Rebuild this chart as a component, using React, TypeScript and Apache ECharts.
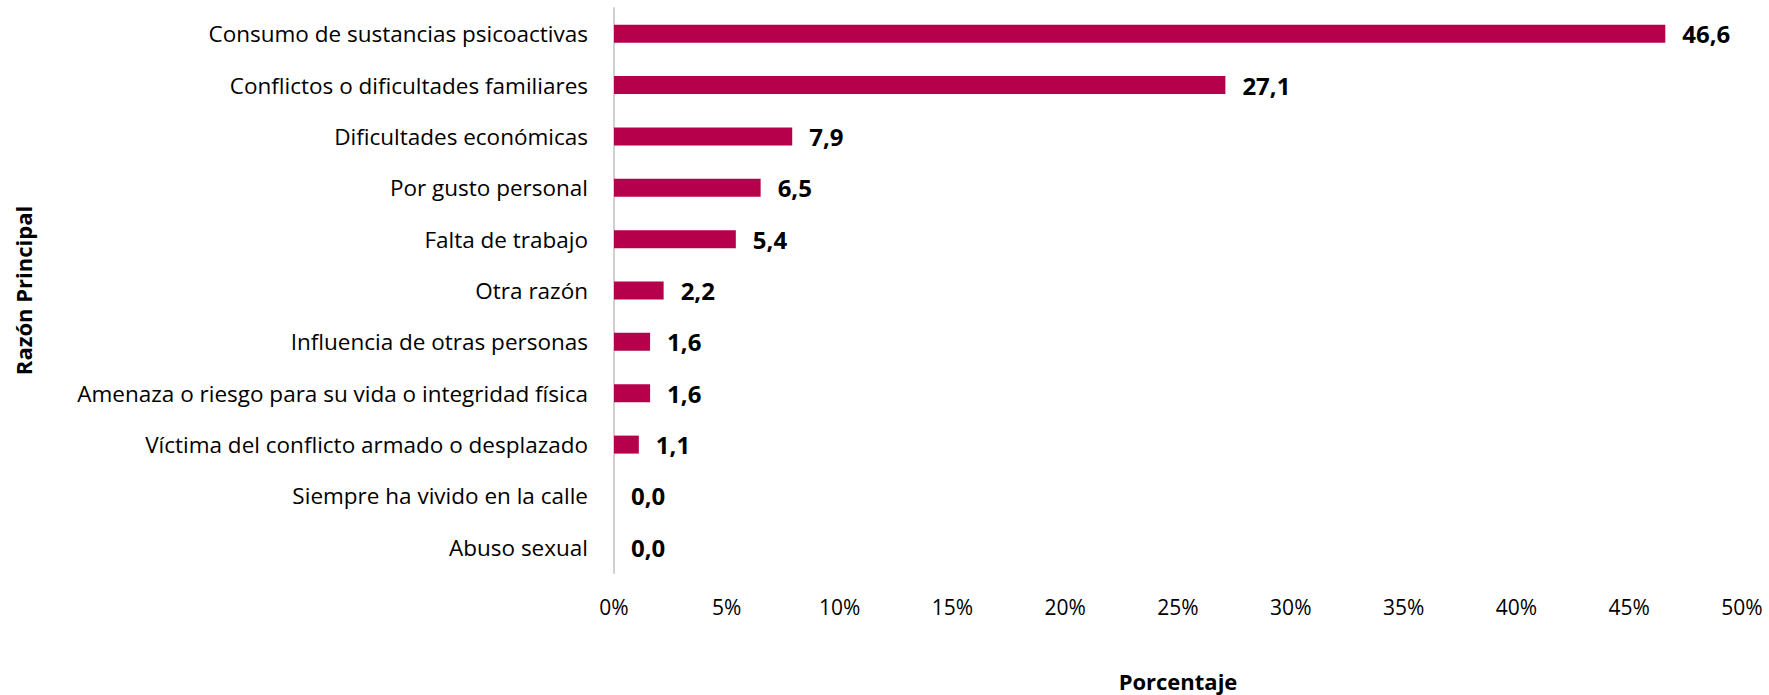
import React, { useEffect, useRef } from "react";
import * as echarts from "echarts";

const categories = [
  "Consumo de sustancias psicoactivas",
  "Conflictos o dificultades familiares",
  "Dificultades económicas",
  "Por gusto personal",
  "Falta de trabajo",
  "Otra razón",
  "Influencia de otras personas",
  "Amenaza o riesgo para su vida o integridad física",
  "Víctima del conflicto armado o desplazado",
  "Siempre ha vivido en la calle",
  "Abuso sexual",
];
const values = [46.6, 27.1, 7.9, 6.5, 5.4, 2.2, 1.6, 1.6, 1.1, 0.0, 0.0];
const xTicks = [0, 5, 10, 15, 20, 25, 30, 35, 40, 45, 50];

const FONT = "'Open Sans', 'Noto Sans', sans-serif";

export default function App() {
  const ref = useRef<HTMLDivElement>(null);
  useEffect(() => {
    if (!ref.current) return;
    const chart = echarts.init(ref.current, null, { renderer: "svg" });
    chart.setOption({
      animation: false,
      backgroundColor: "#ffffff",
      textStyle: { fontFamily: FONT },
      grid: { left: 614, right: 27, top: 8, bottom: 122, containLabel: false, outerBoundsMode: "none" },
      xAxis: {
        type: "value",
        min: xTicks[0],
        max: xTicks[xTicks.length - 1],
        interval: 5,
        axisLine: { show: false },
        axisTick: { show: false },
        splitLine: { show: false },
        axisLabel: {
          formatter: (v: number) => `${v}%`,
          fontSize: 21,
          color: "#000",
          fontFamily: FONT,
          margin: 23,
        },
        name: "Porcentaje",
        nameLocation: "middle",
        nameGap: 97,
        nameTextStyle: { fontSize: 22, fontWeight: "bold", color: "#000", fontFamily: FONT },
      },
      yAxis: {
        type: "category",
        data: categories,
        inverse: true,
        axisLine: { show: true, lineStyle: { color: "#d0d0d0", width: 2 } },
        axisTick: { show: false },
        axisLabel: { fontSize: 22.5, color: "#000", margin: 26, fontFamily: FONT },
        name: "Razón Principal",
        nameLocation: "middle",
        nameGap: 580,
        nameRotate: 90,
        nameTextStyle: { fontSize: 22, fontWeight: "bold", color: "#000", fontFamily: FONT },
      },
      series: [
        {
          type: "bar",
          data: values,
          barWidth: 18,
          itemStyle: { color: "#b6004b" },
          label: {
            show: true,
            position: "right",
            distance: 17,
            formatter: (p: any) => Number(p.value).toFixed(1).replace(".", ","),
            fontSize: 24,
            fontWeight: "bold",
            color: "#000",
            fontFamily: FONT,
          },
        },
      ],
    });
    return () => chart.dispose();
  }, []);
  return (
    <div
      ref={ref}
      style={{ position: "absolute", left: 0, top: 0, width: 1769, height: 695 }}
    />
  );
}
